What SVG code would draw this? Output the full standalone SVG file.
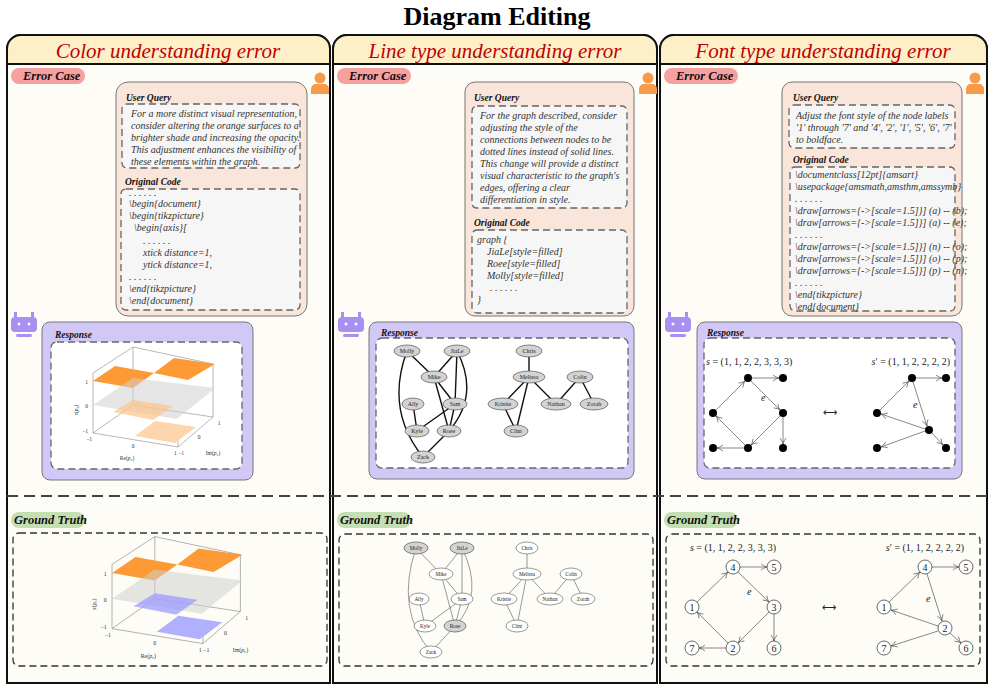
<svg xmlns="http://www.w3.org/2000/svg" width="994" height="690" viewBox="0 0 994 690">
<defs>
<style>
.t{font-family:"Liberation Serif",serif}
.hd{font-family:"Liberation Serif",serif;font-style:italic;font-size:21px;fill:#c00000;text-anchor:middle}
.pill{font-family:"Liberation Serif",serif;font-style:italic;font-weight:bold;font-size:12.5px;fill:#111}
.lab{font-family:"Liberation Serif",serif;font-style:italic;font-weight:bold;font-size:9.5px;fill:#111}
.q{font-family:"Liberation Serif",serif;font-style:italic;font-size:10px;fill:#333}
.pink{fill:#f9e5da;stroke:#777;stroke-width:1}
.purp{fill:#d2c8f7;stroke:#777;stroke-width:1}
.dash{fill:#f6f6f6;stroke:#666;stroke-width:1.3;stroke-dasharray:7,4}
.dashw{fill:#fff;stroke:#666;stroke-width:1.3;stroke-dasharray:7,4}
.dashg{fill:none;stroke:#333;stroke-width:1.3;stroke-dasharray:7,4}
.gn{fill:#d3d3d3;stroke:#555;stroke-width:0.7}
.wn{fill:#fff;stroke:#555;stroke-width:0.6}
.nt{font-family:"Liberation Serif",serif;font-size:6px;fill:#222;text-anchor:middle}
.ntg{font-family:"Liberation Serif",serif;font-size:5.2px;fill:#222;text-anchor:middle}
.e1{stroke:#111;stroke-width:1.4;fill:none}
.e2{stroke:#555;stroke-width:0.6;fill:none}
.ar{stroke:#555;stroke-width:0.7;fill:none;marker-end:url(#arr)}
.m{font-family:"Liberation Serif",serif;font-size:10px;fill:#222}
.pl{font-family:"Liberation Serif",serif;font-size:5.5px;fill:#333}
.ax{stroke:#888;stroke-width:0.6;fill:none}
</style>
<marker id="arr" markerWidth="8" markerHeight="8" refX="7" refY="4" orient="auto" markerUnits="userSpaceOnUse"><path d="M1,1 Q4,3.5 7,4 Q4,4.5 1,7" fill="none" stroke="#555" stroke-width="0.7"/></marker>
<g id="person"><circle cx="0" cy="-8" r="5.5" fill="#f79a4a"/><path d="M-9,8 v-5 a5,5 0 0 1 5,-5 h8 a5,5 0 0 1 5,5 v5 z" fill="#f79a4a"/></g>
<g id="robot"><rect x="-13" y="-8" width="26" height="15" rx="4" fill="#a88ff2"/><rect x="-10" y="-13" width="3" height="6" fill="#a88ff2"/><rect x="7" y="-13" width="3" height="6" fill="#a88ff2"/><circle cx="-5" cy="-1" r="1.5" fill="#fff"/><circle cx="5" cy="-1" r="1.5" fill="#fff"/><rect x="-8" y="9" width="16" height="3" rx="1.5" fill="#a88ff2"/></g>
<g id="plot">
<path class="ax" d="M93,373 L93,433 L178,447 L213,417 L213,364 L133,347 L93,373 M133,347 L133,405 L93,433 M133,405 L213,417 M178,447 L178,440"/>
<polygon points="93,381 115,366 154,373 133,388" fill="#fd9a35"/>
<polygon points="154,373 174,358 215,364 188,380" fill="#fd9a35"/>
<polygon points="93,405 133,378 215,388 177,419" fill="#cfcfcf" fill-opacity="0.55"/>
<text class="pl" x="88" y="384" text-anchor="end">1</text>
<text class="pl" x="88" y="408" text-anchor="end">0</text>
<text class="pl" x="88" y="433" text-anchor="end">−1</text>
<text class="pl" x="92" y="441" text-anchor="end">−1</text>
<text class="pl" x="133" y="448" text-anchor="middle">0</text>
<text class="pl" x="179" y="455" text-anchor="middle">1 −1</text>
<text class="pl" x="199" y="439" text-anchor="middle">0</text>
<text class="pl" x="219" y="425" text-anchor="middle">1</text>
<text class="pl" x="127" y="460" text-anchor="middle">Re(<tspan font-style="italic">p</tspan>₀)</text>
<text class="pl" x="213" y="455" text-anchor="middle">Im(<tspan font-style="italic">p</tspan>₀)</text>
<text class="pl" transform="translate(78,410) rotate(-90)" text-anchor="middle"><tspan font-style="italic">s</tspan>(<tspan font-style="italic">p</tspan>₀)</text>
</g>
</defs>

<rect width="994" height="690" fill="#fff"/>
<text class="t" x="497" y="25" font-size="26" font-weight="bold" text-anchor="middle">Diagram Editing</text>

<g id="panels">
<path d="M7,683 V49 a14,14 0 0 1 14,-14 H316 a14,14 0 0 1 14,14 V683 Z" fill="#fdfcf6" stroke="#111" stroke-width="2"/>
<path d="M7,64 V49 a14,14 0 0 1 14,-14 H316 a14,14 0 0 1 14,14 V64 Z" fill="#fdf0c8" stroke="#111" stroke-width="2"/>
<path d="M333,683 V49 a14,14 0 0 1 14,-14 H643 a14,14 0 0 1 14,14 V683 Z" fill="#fdfcf6" stroke="#111" stroke-width="2"/>
<path d="M333,64 V49 a14,14 0 0 1 14,-14 H643 a14,14 0 0 1 14,14 V64 Z" fill="#fdf0c8" stroke="#111" stroke-width="2"/>
<path d="M660,683 V49 a14,14 0 0 1 14,-14 H973 a14,14 0 0 1 14,14 V683 Z" fill="#fdfcf6" stroke="#111" stroke-width="2"/>
<path d="M660,64 V49 a14,14 0 0 1 14,-14 H973 a14,14 0 0 1 14,14 V64 Z" fill="#fdf0c8" stroke="#111" stroke-width="2"/>
<text class="hd" x="168" y="58">Color understanding error</text>
<text class="hd" x="495" y="58">Line type understanding error</text>
<text class="hd" x="823" y="58">Font type understanding error</text>
<line x1="7" y1="496" x2="987" y2="496" stroke="#444" stroke-width="2" stroke-dasharray="11,6"/>
</g>

<!-- Panel 1 -->
<g id="p1-error">
<rect x="11" y="68" width="74" height="16" rx="8" fill="#f7a0a0"/>
<text class="pill" x="23" y="80">Error Case</text>
<use href="#person" x="320" y="86"/>
<rect class="pink" x="116" y="82" width="191" height="234" rx="12"/>
<text class="lab" x="126" y="101">User Query</text>
<rect class="dash" x="122" y="104" width="178" height="64" rx="5"/>
<text class="q" x="131" y="117">For a more distinct visual representation,</text>
<text class="q" x="131" y="129">consider altering the orange surfaces to a</text>
<text class="q" x="131" y="141">brighter shade and increasing the opacity.</text>
<text class="q" x="131" y="153">This adjustment enhances the visibility of</text>
<text class="q" x="131" y="165">these elements within the graph.</text>
<text class="lab" x="125" y="185">Original Code</text>
<rect class="dash" x="121" y="189" width="179" height="121" rx="5"/>
<text class="q" x="129" y="196">. . . . . .</text>
<text class="q" x="129" y="207">\begin{document}</text>
<text class="q" x="129" y="219">\begin{tikzpicture}</text>
<text class="q" x="134" y="231">\begin{axis}[</text>
<text class="q" x="143" y="244">. . . . . .</text>
<text class="q" x="143" y="256">xtick distance=1,</text>
<text class="q" x="143" y="268">ytick distance=1,</text>
<text class="q" x="129" y="280">. . . . . .</text>
<text class="q" x="129" y="292">\end{tikzpicture}</text>
<text class="q" x="129" y="304">\end{document}</text>
</g>
<g id="p1-response">
<use href="#robot" x="24" y="325"/>
<rect class="purp" x="42" y="322" width="211" height="158" rx="8"/>
<text class="lab" x="55" y="338">Response</text>
<rect class="dashw" x="51" y="342" width="191" height="127" rx="6"/>
<use href="#plot"/>
<polygon points="113,412 133,400 173,406 153,420" fill="#fdc48a" fill-opacity="0.7"/>
<polygon points="135,436 155,421 196,427 175,443" fill="#fdd6ae"/>
</g>
<g id="p1-gt">
<rect x="11" y="512" width="74" height="16" rx="8" fill="#c4dfb2"/>
<text class="pill" x="14" y="524">Ground Truth</text>
<rect class="dashg" x="13" y="533" width="314" height="133" rx="6"/>
<g transform="translate(112,573) scale(1.07) translate(-93,-381)">
<use href="#plot"/>
<polygon points="113,412 133,400 173,406 153,420" fill="#9c9cff" fill-opacity="0.75"/>
<polygon points="135,436 155,421 196,427 175,443" fill="#b0b0ff"/>
</g>
</g>

<!-- Panel 2 -->
<g id="p2-error">
<rect x="337" y="68" width="74" height="16" rx="8" fill="#f7a0a0"/>
<text class="pill" x="349" y="80">Error Case</text>
<use href="#person" x="648" y="86"/>
<rect class="pink" x="465" y="82" width="169" height="234" rx="10"/>
<text class="lab" x="474" y="101">User Query</text>
<rect class="dash" x="472" y="106" width="155" height="102" rx="5"/>
<text class="q" x="480" y="119">For the graph described, consider</text>
<text class="q" x="480" y="131">adjusting the style of the</text>
<text class="q" x="480" y="143">connections between nodes to be</text>
<text class="q" x="480" y="155">dotted lines instead of solid lines.</text>
<text class="q" x="480" y="167">This change will provide a distinct</text>
<text class="q" x="480" y="179">visual characteristic to the graph's</text>
<text class="q" x="480" y="191">edges, offering a clear</text>
<text class="q" x="480" y="203">differentiation in style.</text>
<text class="lab" x="474" y="226">Original Code</text>
<rect class="dash" x="472" y="230" width="155" height="83" rx="5"/>
<text class="q" x="477" y="243">graph {</text>
<text class="q" x="487" y="255">JiaLe[style=filled]</text>
<text class="q" x="487" y="267">Roee[style=filled]</text>
<text class="q" x="487" y="279">Molly[style=filled]</text>
<text class="q" x="490" y="291">. . . . . .</text>
<text class="q" x="477" y="303">}</text>
</g>
<g id="p2-response">
<use href="#robot" x="351" y="325"/>
<rect class="purp" x="369" y="322" width="265" height="157" rx="8"/>
<text class="lab" x="381" y="336">Response</text>
<rect class="dashw" x="376" y="338" width="252" height="130" rx="6"/>
<g id="p2-resp-edges">
<path class="e1" d="M407,351 L434,377 M407,351 Q385,410 423,457 M457,351 L434,377 M457,351 L455,404 M457,351 Q480,395 449,431 M434,377 L455,404 M434,377 L449,431 M413,404 L417,431 M455,404 L417,431 M455,404 L449,431 M449,431 L423,457 M529,351 L529,377 M529,377 L503,404 M529,377 L516,431 M529,377 L556,404 M580,377 L556,404 M580,377 L594,404 M503,404 L516,431"/>
</g>
<g>
<ellipse class="gn" cx="407" cy="351" rx="13" ry="6"/><text class="nt" x="407" y="353">Molly</text>
<ellipse class="gn" cx="457" cy="351" rx="13" ry="6"/><text class="nt" x="457" y="353">JiaLe</text>
<ellipse class="gn" cx="434" cy="377" rx="13" ry="6"/><text class="nt" x="434" y="379">Mike</text>
<ellipse class="gn" cx="413" cy="404" rx="11" ry="6"/><text class="nt" x="413" y="406">Ally</text>
<ellipse class="gn" cx="455" cy="404" rx="12" ry="6"/><text class="nt" x="455" y="406">Sam</text>
<ellipse class="gn" cx="417" cy="431" rx="12" ry="6"/><text class="nt" x="417" y="433">Kyle</text>
<ellipse class="gn" cx="449" cy="431" rx="12" ry="6"/><text class="nt" x="449" y="433">Roee</text>
<ellipse class="gn" cx="423" cy="457" rx="12" ry="6"/><text class="nt" x="423" y="459">Zack</text>
<ellipse class="gn" cx="529" cy="351" rx="13" ry="6"/><text class="nt" x="529" y="353">Chris</text>
<ellipse class="gn" cx="529" cy="377" rx="16" ry="6"/><text class="nt" x="529" y="379">Melissa</text>
<ellipse class="gn" cx="580" cy="377" rx="13" ry="6"/><text class="nt" x="580" y="379">Colin</text>
<ellipse class="gn" cx="503" cy="404" rx="15" ry="6"/><text class="nt" x="503" y="406">Kristie</text>
<ellipse class="gn" cx="556" cy="404" rx="15" ry="6"/><text class="nt" x="556" y="406">Nathan</text>
<ellipse class="gn" cx="594" cy="404" rx="14" ry="6"/><text class="nt" x="594" y="406">Zorah</text>
<ellipse class="gn" cx="516" cy="431" rx="12" ry="6"/><text class="nt" x="516" y="433">Clint</text>
</g>
</g>
<g id="p2-gt">
<rect x="337" y="512" width="74" height="16" rx="8" fill="#c4dfb2"/>
<text class="pill" x="340" y="524">Ground Truth</text>
<rect class="dashg" x="339" y="534" width="314" height="132" rx="6"/>
<g id="p2-gt-edges">
<path class="e2" d="M416,548 L441,574 M416,548 Q395,610 431,652 M462,548 L441,574 M462,548 L462,599 M462,548 Q485,595 455,626 M441,574 L462,599 M441,574 L455,626 M419,599 L425,626 M462,599 L425,626 M462,599 L455,626 M455,626 L431,652 M527,548 L527,574 M527,574 L504,599 M527,574 L517,626 M527,574 L550,599 M571,574 L550,599 M571,574 L583,599 M504,599 L517,626"/>
</g>
<ellipse class="gn" cx="416" cy="548" rx="12" ry="6"/><text class="ntg" x="416" y="550">Molly</text>
<ellipse class="gn" cx="462" cy="548" rx="12" ry="6"/><text class="ntg" x="462" y="550">JiaLe</text>
<ellipse class="wn" cx="441" cy="574" rx="12" ry="6"/><text class="ntg" x="441" y="576">Mike</text>
<ellipse class="wn" cx="419" cy="599" rx="10" ry="6"/><text class="ntg" x="419" y="601">Ally</text>
<ellipse class="wn" cx="462" cy="599" rx="11" ry="6"/><text class="ntg" x="462" y="601">Sam</text>
<ellipse class="wn" cx="425" cy="626" rx="11" ry="6"/><text class="ntg" x="425" y="628">Kyle</text>
<ellipse class="gn" cx="455" cy="626" rx="11" ry="6"/><text class="ntg" x="455" y="628">Roee</text>
<ellipse class="wn" cx="431" cy="652" rx="11" ry="6"/><text class="ntg" x="431" y="654">Zack</text>
<ellipse class="wn" cx="527" cy="548" rx="11" ry="6"/><text class="ntg" x="527" y="550">Chris</text>
<ellipse class="wn" cx="527" cy="574" rx="14" ry="6"/><text class="ntg" x="527" y="576">Melissa</text>
<ellipse class="wn" cx="571" cy="574" rx="11" ry="6"/><text class="ntg" x="571" y="576">Colin</text>
<ellipse class="wn" cx="504" cy="599" rx="13" ry="6"/><text class="ntg" x="504" y="601">Kristie</text>
<ellipse class="wn" cx="550" cy="599" rx="13" ry="6"/><text class="ntg" x="550" y="601">Nathan</text>
<ellipse class="wn" cx="583" cy="599" rx="12" ry="6"/><text class="ntg" x="583" y="601">Zorah</text>
<ellipse class="wn" cx="517" cy="626" rx="11" ry="6"/><text class="ntg" x="517" y="628">Clint</text>
</g>

<!-- Panel 3 -->
<g id="p3-error">
<rect x="664" y="68" width="74" height="16" rx="8" fill="#f7a0a0"/>
<text class="pill" x="676" y="80">Error Case</text>
<use href="#person" x="975" y="86"/>
<rect class="pink" x="782" y="82" width="180" height="234" rx="10"/>
<text class="lab" x="793" y="101">User Query</text>
<rect class="dash" x="789" y="105" width="166" height="43" rx="5"/>
<text class="q" x="796" y="119">Adjust the font style of the node labels</text>
<text class="q" x="796" y="131">'1' through '7' and '4', '2', '1', '5', '6', '7'</text>
<text class="q" x="796" y="143">to boldface.</text>
<text class="lab" x="793" y="163">Original Code</text>
<rect class="dash" x="790" y="167" width="165" height="144" rx="5"/>
<text class="q" x="795" y="178">\documentclass[12pt]{amsart}</text>
<text class="q" x="795" y="190">\usepackage{amsmath,amsthm,amssymb}</text>
<text class="q" x="795" y="202">. . . . . .</text>
<text class="q" x="795" y="214">\draw[arrows={-&gt;[scale=1.5]}] (a) -- (b);</text>
<text class="q" x="795" y="226">\draw[arrows={-&gt;[scale=1.5]}] (a) -- (e);</text>
<text class="q" x="795" y="238">. . . . . .</text>
<text class="q" x="795" y="250">\draw[arrows={-&gt;[scale=1.5]}] (n) -- (o);</text>
<text class="q" x="795" y="262">\draw[arrows={-&gt;[scale=1.5]}] (o) -- (p);</text>
<text class="q" x="795" y="274">\draw[arrows={-&gt;[scale=1.5]}] (p) -- (n);</text>
<text class="q" x="795" y="286">. . . . . .</text>
<text class="q" x="795" y="298">\end{tikzpicture}</text>
<text class="q" x="795" y="310">\end{document}</text>
</g>
<g id="p3-response">
<use href="#robot" x="678" y="325"/>
<rect class="purp" x="697" y="322" width="265" height="157" rx="8"/>
<text class="lab" x="707" y="336">Response</text>
<rect class="dashw" x="704" y="338" width="251" height="130" rx="6"/>
<text class="m" x="706" y="365"><tspan font-style="italic">s</tspan> = (1, 1, 2, 2, 3, 3, 3)</text>
<text class="m" x="950" y="365" text-anchor="end"><tspan font-style="italic">s</tspan>′ = (1, 1, 2, 2, 2, 2)</text>
<g id="p3-resp-edges">
<line class="ar" x1="716" y1="410" x2="745" y2="381"/>
<line class="ar" x1="752" y1="378" x2="779" y2="378"/>
<line class="ar" x1="751" y1="381" x2="780" y2="410"/>
<line class="ar" x1="783" y1="417" x2="783" y2="444"/>
<line class="ar" x1="780" y1="416" x2="751" y2="445"/>
<line class="ar" x1="745" y1="445" x2="716" y2="416"/>
<line class="ar" x1="744" y1="448" x2="717" y2="448"/>
<line class="ar" x1="880" y1="410" x2="909" y2="381"/>
<line class="ar" x1="916" y1="378" x2="942" y2="378"/>
<line class="ar" x1="913" y1="382" x2="927" y2="426"/>
<line class="ar" x1="925" y1="429" x2="881" y2="414"/>
<line class="ar" x1="925" y1="431" x2="881" y2="447"/>
<line class="ar" x1="932" y1="433" x2="943" y2="445"/>
</g>
<g fill="#000">
<circle cx="748" cy="378" r="4"/><circle cx="783" cy="378" r="4"/><circle cx="713" cy="413" r="4"/><circle cx="783" cy="413" r="4"/><circle cx="713" cy="448" r="4"/><circle cx="748" cy="448" r="4"/><circle cx="783" cy="448" r="4"/>
<circle cx="912" cy="378" r="4"/><circle cx="946" cy="378" r="4"/><circle cx="877" cy="413" r="4"/><circle cx="929" cy="430" r="4"/><circle cx="877" cy="448" r="4"/><circle cx="946" cy="448" r="4"/>
</g>
<text class="m" x="761" y="401" font-size="8" font-style="italic">e</text>
<text class="m" x="913" y="408" font-size="8" font-style="italic">e</text>
<text class="m" x="830" y="416" text-anchor="middle">⟷</text>
</g>
<g id="p3-gt">
<rect x="664" y="512" width="74" height="16" rx="8" fill="#c4dfb2"/>
<text class="pill" x="667" y="524">Ground Truth</text>
<rect class="dashg" x="666" y="534" width="314" height="132" rx="6"/>
<text class="m" x="733" y="551" text-anchor="middle" font-size="11"><tspan font-style="italic">s</tspan> = (1, 1, 2, 2, 3, 3, 3)</text>
<text class="m" x="925" y="551" text-anchor="middle" font-size="11"><tspan font-style="italic">s</tspan>′ = (1, 1, 2, 2, 2, 2)</text>
<g id="p3-gt-edges">
<line class="ar" x1="697" y1="602" x2="728" y2="572"/>
<line class="ar" x1="740" y1="567" x2="767" y2="567"/>
<line class="ar" x1="738" y1="572" x2="769" y2="602"/>
<line class="ar" x1="774" y1="614" x2="774" y2="641"/>
<line class="ar" x1="769" y1="612" x2="738" y2="643"/>
<line class="ar" x1="728" y1="643" x2="697" y2="612"/>
<line class="ar" x1="726" y1="648" x2="699" y2="648"/>
<line class="ar" x1="889" y1="602" x2="920" y2="572"/>
<line class="ar" x1="932" y1="567" x2="959" y2="567"/>
<line class="ar" x1="927" y1="574" x2="942" y2="621"/>
<line class="ar" x1="938" y1="626" x2="891" y2="610"/>
<line class="ar" x1="938" y1="631" x2="891" y2="646"/>
<line class="ar" x1="950" y1="633" x2="961" y2="643"/>
</g>
<g fill="#fff" stroke="#444" stroke-width="0.8">
<circle cx="733" cy="567" r="7"/><circle cx="774" cy="567" r="7"/><circle cx="692" cy="607" r="7"/><circle cx="774" cy="607" r="7"/><circle cx="692" cy="648" r="7"/><circle cx="733" cy="648" r="7"/><circle cx="774" cy="648" r="7"/>
<circle cx="925" cy="567" r="7"/><circle cx="966" cy="567" r="7"/><circle cx="884" cy="607" r="7"/><circle cx="945" cy="628" r="7"/><circle cx="884" cy="648" r="7"/><circle cx="966" cy="648" r="7"/>
</g>
<g class="m" text-anchor="middle" font-size="10">
<text x="733" y="571">4</text><text x="774" y="571">5</text><text x="692" y="611">1</text><text x="774" y="611">3</text><text x="692" y="652">7</text><text x="733" y="652">2</text><text x="774" y="652">6</text>
<text x="925" y="571">4</text><text x="966" y="571">5</text><text x="884" y="611">1</text><text x="945" y="632">2</text><text x="884" y="652">7</text><text x="966" y="652">6</text>
</g>
<text class="m" x="747" y="595" font-size="9" font-style="italic">e</text>
<text class="m" x="926" y="602" font-size="9" font-style="italic">e</text>
<text class="m" x="829" y="611" text-anchor="middle">⟷</text>
</g>
</svg>
